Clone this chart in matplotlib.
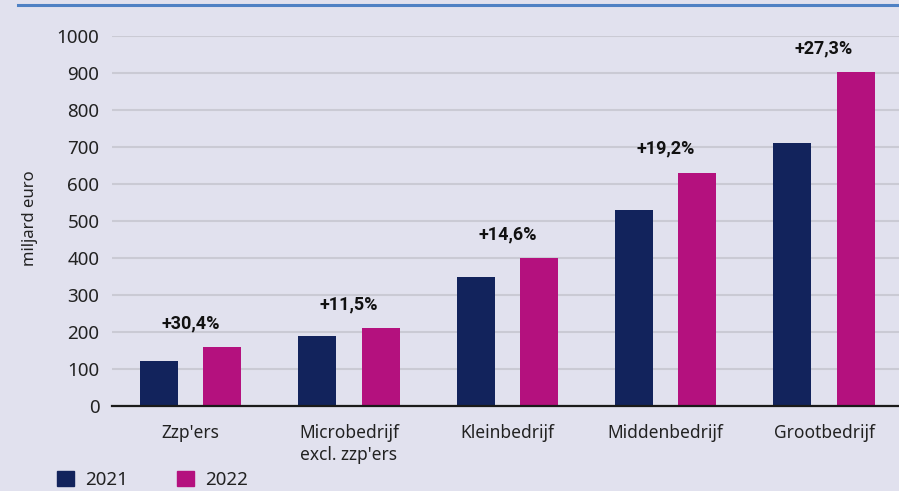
import numpy as np
import matplotlib.pyplot as plt
from matplotlib.patches import Rectangle
from matplotlib.lines import Line2D
from matplotlib import font_manager

# data
categories = ["Zzp'ers", "Microbedrijf\nexcl. zzp'ers", "Kleinbedrijf", "Middenbedrijf", "Grootbedrijf"]
values_2021 = [122, 189, 348, 531, 712]
values_2022 = [159, 210, 399, 631, 903]
growth_labels = ["+30,4%", "+11,5%", "+14,6%", "+19,2%", "+27,3%"]
yticks = [0, 100, 200, 300, 400, 500, 600, 700, 800, 900, 1000]

bg = '#e1e1ee'
navy = '#12235c'
magenta = '#b4117e'

plt.rcParams['font.family'] = ['Noto Sans', 'DejaVu Sans']

# pick a family that really has a (non-condensed) bold face
bold_family = 'DejaVu Sans'
for fam in ['Roboto', 'Lato', 'Open Sans', 'Noto Sans']:
    fp = font_manager.FontProperties(family=fam, weight='bold')
    try:
        path = font_manager.findfont(fp, fallback_to_default=False).lower()
    except Exception:
        continue
    if 'bold' in path and 'condensed' not in path and 'semi' not in path and 'extra' not in path:
        bold_family = fam
        break

fig = plt.figure(figsize=(8.99, 4.91), dpi=100, facecolor=bg)
ax = fig.add_axes([112/899, 85/491, 1 - 112/899, 370/491])
ax.set_facecolor(bg)

x = np.arange(len(categories))
w = 0.24
ax.bar(x - 0.2, values_2021, w, color=navy, zorder=3)
ax.bar(x + 0.2, values_2022, w, color=magenta, zorder=3)

# growth labels above each group
for i, lab in enumerate(growth_labels):
    top = max(values_2021[i], values_2022[i])
    ax.annotate(lab, (x[i], top), xytext=(0, 17), textcoords='offset points',
                ha='center', va='center', fontsize=13, fontweight='bold', color='#111111',
                family=[bold_family, 'DejaVu Sans'])

ax.set_xlim(-0.496, 4.473)
ax.set_ylim(0, 1000)
ax.set_yticks(yticks)
ax.set_xticks(x)
ax.set_xticklabels(categories, fontsize=12.5, color='#222222', linespacing=1.25)
ax.tick_params(axis='y', length=0, pad=9, labelsize=13.5, labelcolor='#222222')
ax.tick_params(axis='x', length=0, pad=13)
ax.grid(axis='y', color='#cacad4', linewidth=1.5, zorder=0)
for s in ['top', 'right', 'left']:
    ax.spines[s].set_visible(False)
ax.spines['bottom'].set_color('#1a1a1a')
ax.spines['bottom'].set_linewidth(1.6)
ax.spines['bottom'].set_zorder(4)

fig.text(30/899, 1 - 218/491, 'miljard euro', rotation=90, ha='center', va='center',
         fontsize=12, color='#222222')

# blue rule at top
fig.add_artist(Line2D([18/899, 1], [1 - 5/491, 1 - 5/491], color='#4f81c4', linewidth=2.2))

# legend at the bottom
leg = fig.legend(handles=[Rectangle((0, 0), 1, 1, color=navy), Rectangle((0, 0), 1, 1, color=magenta)],
                 labels=['2021', '2022'], loc='center left', bbox_to_anchor=(57/899, 1 - 480/491),
                 ncol=2, frameon=False, fontsize=13.5, handlelength=0.9, handleheight=0.9,
                 handletextpad=0.6, columnspacing=2.6, borderaxespad=0, borderpad=0)
for t in leg.get_texts():
    t.set_color('#222222')

fig.savefig('out.png', dpi=100, facecolor=bg)
